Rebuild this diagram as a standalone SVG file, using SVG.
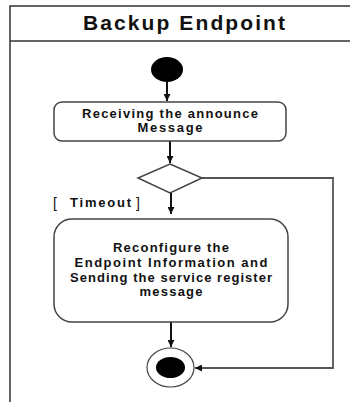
<svg xmlns="http://www.w3.org/2000/svg" width="350" height="402" viewBox="0 0 350 402">
  <style>
    .frame { fill: none; stroke: #333; stroke-width: 1.5; }
    .box { fill: #fff; stroke: #444; stroke-width: 1.5; }
    .edge { fill: none; stroke: #111; stroke-width: 2; }
    .edge-gray { fill: none; stroke: #555; stroke-width: 1.8; }
    .title { font-family: "Liberation Sans", Arial, sans-serif; font-weight: bold; font-size: 21px; fill: #111; text-anchor: middle; }
    .label { font-family: "Liberation Sans", Arial, sans-serif; font-weight: bold; font-size: 13px; fill: #111; text-anchor: middle; }
    .guard { font-family: "Liberation Sans", Arial, sans-serif; font-size: 14px; fill: #111; }
  </style>
  <defs>
    <marker id="arrow" viewBox="0 0 8 8" refX="8" refY="4" markerWidth="7" markerHeight="7" markerUnits="userSpaceOnUse" orient="auto">
      <path d="M0,0 L8,4 L0,8 z" fill="#111"/>
    </marker>
  </defs>
  <rect width="350" height="402" fill="#fff"/>

  <!-- swimlane frame -->
  <g id="frame">
    <path class="frame" d="M10,402 V6 H350"/>
    <line class="frame" x1="10" y1="41" x2="350" y2="41"/>
    <text class="title" x="184" y="30" textLength="202" lengthAdjust="spacing">Backup Endpoint</text>
  </g>

  <!-- connectors -->
  <g id="connectors">
    <line class="edge" x1="167" y1="82" x2="167" y2="101" marker-end="url(#arrow)"/>
    <line class="edge" x1="170" y1="141" x2="170" y2="163" marker-end="url(#arrow)"/>
    <line class="edge" x1="171" y1="193" x2="171" y2="214" marker-end="url(#arrow)"/>
    <line class="edge" x1="171" y1="322" x2="171" y2="347" marker-end="url(#arrow)"/>
    <path class="edge-gray" d="M202,178 H333 V368 H195" marker-end="url(#arrow)"/>
  </g>

  <g id="start">
    <ellipse cx="167" cy="69.5" rx="16" ry="12.5" fill="#000"/>
  </g>

  <g id="receive">
    <rect class="box" x="54" y="102" width="232" height="39" rx="8"/>
    <text class="label" x="170" y="118" textLength="176" lengthAdjust="spacing">Receiving the announce</text>
    <text class="label" x="170" y="132" textLength="65" lengthAdjust="spacing">Message</text>
  </g>

  <g id="decision">
    <polygon class="box" points="170,164 202,178 170,193 138,178"/>
  </g>

  <g id="guard">
    <text class="guard" x="53" y="208">[<tspan x="70" y="207" font-size="13" font-weight="bold" textLength="61" lengthAdjust="spacing">Timeout</tspan><tspan x="136" y="208">]</tspan></text>
  </g>

  <g id="reconfigure">
    <rect class="box" x="54" y="219" width="234" height="103" rx="18"/>
    <text class="label" x="171" y="252" textLength="116" lengthAdjust="spacing">Reconfigure the</text>
    <text class="label" x="171" y="267" textLength="193" lengthAdjust="spacing">Endpoint Information and</text>
    <text class="label" x="171" y="282" textLength="202" lengthAdjust="spacing">Sending the service register</text>
    <text class="label" x="171" y="296" textLength="63" lengthAdjust="spacing">message</text>
  </g>

  <g id="end">
    <ellipse cx="170.5" cy="367.5" rx="23.5" ry="19.5" fill="#fff" stroke="#444" stroke-width="1.2"/>
    <ellipse cx="170.5" cy="367.5" rx="14.5" ry="10.5" fill="#000"/>
  </g>
</svg>
